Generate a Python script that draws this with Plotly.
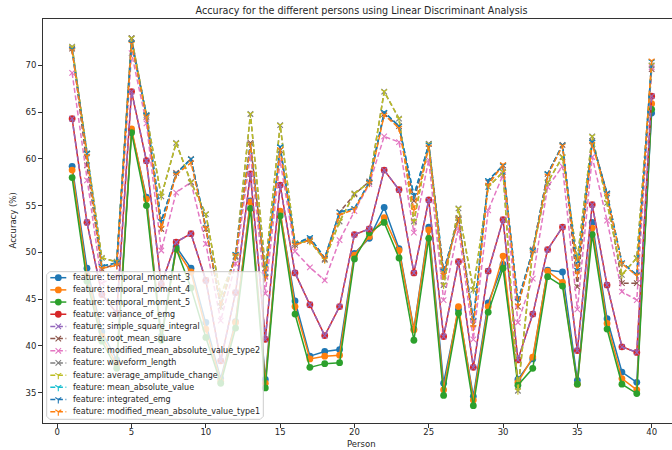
import plotly.graph_objects as go

# ---------------------------------------------------------------------------
# Data: LDA accuracy (%) per person for each EMG feature
# ---------------------------------------------------------------------------
persons = list(range(1, 41))

temporal_moment_3 = [59.2, 48.3, 41.5, 38.5, 63.0, 55.9, 41.0, 50.6, 48.3, 42.5,
                     36.5, 42.6, 55.5, 36.4, 54.2, 44.8, 38.9, 39.4, 39.6, 49.9,
                     51.5, 54.8, 50.4, 41.8, 52.7, 36.0, 43.9, 34.6, 44.6, 48.7,
                     36.4, 38.6, 48.1, 47.9, 36.3, 53.2, 42.9, 37.2, 36.1, 64.9]
temporal_moment_4 = [58.8, 47.6, 41.0, 38.0, 63.2, 55.7, 40.8, 50.3, 47.9, 41.8,
                     36.2, 42.5, 55.4, 36.0, 54.4, 44.2, 38.6, 38.9, 39.0, 49.7,
                     51.7, 53.7, 50.2, 41.7, 52.4, 35.3, 44.2, 34.2, 44.2, 49.6,
                     36.1, 38.8, 48.0, 46.8, 35.9, 52.6, 42.4, 36.5, 35.3, 65.9]
temporal_moment_5 = [58.0, 46.9, 40.5, 37.6, 62.8, 55.0, 40.6, 50.4, 46.2, 40.9,
                     36.0, 41.9, 54.7, 35.5, 53.9, 43.4, 37.7, 38.1, 38.2, 49.3,
                     52.1, 53.2, 49.4, 40.6, 51.5, 34.7, 43.5, 33.6, 43.6, 48.3,
                     35.8, 37.6, 47.4, 46.4, 35.9, 51.9, 41.8, 35.9, 34.9, 65.3]
variance_of_emg = [64.3, 53.2, 45.5, 43.5, 67.2, 59.8, 46.6, 51.1, 52.0, 47.0,
                   38.4, 45.7, 58.4, 40.7, 57.2, 47.8, 44.4, 41.1, 44.2, 51.9,
                   52.5, 58.8, 56.7, 47.8, 55.6, 41.0, 49.0, 37.7, 48.0, 53.5,
                   38.5, 43.4, 50.3, 52.7, 39.5, 55.1, 46.5, 39.9, 39.3, 66.7]
simple_square_integral = [64.3, 53.2, 45.5, 43.5, 67.2, 59.8, 46.6, 51.1, 52.0, 47.0,
                          38.4, 45.7, 58.4, 40.7, 57.2, 47.8, 44.4, 41.1, 44.2, 51.9,
                          52.5, 58.8, 56.7, 47.8, 55.6, 41.0, 49.0, 37.7, 48.0, 53.5,
                          38.5, 43.4, 50.3, 52.7, 39.5, 55.1, 46.5, 39.9, 39.3, 66.7]
root_mean_square = [71.8, 59.3, 48.2, 48.8, 72.9, 64.5, 52.5, 58.5, 60.0, 52.5,
                    44.2, 49.6, 61.7, 47.4, 60.9, 50.8, 51.4, 49.3, 54.3, 56.2,
                    57.6, 64.8, 63.5, 55.5, 61.6, 47.5, 53.7, 42.3, 57.5, 59.3,
                    44.2, 50.3, 58.4, 61.5, 46.3, 61.9, 56.3, 46.7, 46.7, 69.6]
modified_mean_absolute_value_type2 = [69.2, 57.7, 46.7, 47.5, 71.3, 63.8, 50.2, 56.4, 57.5, 50.9,
                                      42.7, 48.8, 60.4, 45.6, 59.8, 50.1, 48.4, 47.0, 51.3, 54.4,
                                      57.3, 62.4, 61.8, 52.1, 59.9, 44.9, 52.6, 40.7, 54.5, 58.3,
                                      42.5, 47.2, 57.0, 59.2, 43.9, 60.2, 53.4, 45.8, 44.9, 69.8]
waveform_length = [72.0, 60.6, 49.4, 49.0, 72.9, 64.7, 56.0, 61.7, 57.5, 54.1,
                   45.4, 49.5, 64.8, 48.3, 63.6, 51.0, 51.2, 49.2, 53.3, 56.3,
                   57.5, 67.2, 64.3, 53.3, 61.6, 46.5, 54.7, 46.0, 57.0, 58.6,
                   35.2, 50.2, 57.5, 60.2, 49.3, 62.4, 55.3, 47.6, 49.4, 70.0]
average_amplitude_change = [72.0, 60.6, 49.4, 49.0, 72.9, 64.7, 56.0, 61.7, 57.5, 54.1,
                            45.4, 49.5, 64.8, 48.3, 63.6, 51.0, 51.2, 49.2, 53.3, 56.3,
                            57.5, 67.2, 64.3, 53.3, 61.6, 46.5, 54.7, 46.0, 57.0, 58.6,
                            35.2, 50.2, 57.5, 60.2, 49.3, 62.4, 55.3, 47.6, 49.4, 70.0]
mean_absolute_value = [71.7, 60.6, 48.5, 48.9, 72.4, 64.7, 53.3, 58.4, 60.0, 52.7,
                       44.3, 49.8, 61.6, 47.4, 61.3, 50.9, 51.6, 49.4, 54.3, 54.7,
                       57.5, 65.0, 63.5, 56.1, 61.5, 48.0, 53.6, 42.7, 57.7, 59.3,
                       44.8, 50.2, 58.4, 61.5, 48.1, 61.8, 56.3, 48.9, 47.6, 70.4]
integrated_emg = [71.7, 60.6, 48.5, 48.9, 72.4, 64.7, 53.3, 58.4, 60.0, 52.7,
                  44.3, 49.8, 61.6, 47.4, 61.3, 50.9, 51.6, 49.4, 54.3, 54.7,
                  57.5, 65.0, 63.5, 56.1, 61.5, 48.0, 53.6, 42.7, 57.7, 59.3,
                  44.8, 50.2, 58.4, 61.5, 48.1, 61.8, 56.3, 48.9, 47.6, 70.4]
modified_mean_absolute_value_type1 = [71.6, 60.3, 48.3, 48.6, 72.3, 64.5, 52.6, 58.3, 59.6, 52.6,
                                      44.3, 49.7, 61.6, 47.3, 61.0, 50.8, 51.3, 49.3, 54.0, 54.6,
                                      57.4, 64.7, 63.3, 54.5, 61.3, 47.6, 53.6, 42.0, 57.2, 59.4,
                                      44.3, 50.0, 58.2, 61.4, 47.7, 61.6, 56.1, 48.8, 47.5, 70.5]

x_ticks = [0, 5, 10, 15, 20, 25, 30, 35, 40]
y_ticks = [35, 40, 45, 50, 55, 60, 65, 70]

# (label, values, colour, marker symbol, dash style)
series = [
    ("feature: temporal_moment_3", temporal_moment_3, "#1f77b4", "circle", "solid"),
    ("feature: temporal_moment_4", temporal_moment_4, "#ff7f0e", "circle", "solid"),
    ("feature: temporal_moment_5", temporal_moment_5, "#2ca02c", "circle", "solid"),
    ("feature: variance_of_emg", variance_of_emg, "#d62728", "circle", "solid"),
    ("feature: simple_square_integral", simple_square_integral, "#9467bd", "x-thin-open", "dash"),
    ("feature: root_mean_square", root_mean_square, "#8c564b", "x-thin-open", "dash"),
    ("feature: modified_mean_absolute_value_type2", modified_mean_absolute_value_type2, "#e377c2", "x-thin-open", "dash"),
    ("feature: waveform_length", waveform_length, "#7f7f7f", "x-thin-open", "dash"),
    ("feature: average_amplitude_change", average_amplitude_change, "#bcbd22", "y-down-open", "dash"),
    ("feature: mean_absolute_value", mean_absolute_value, "#17becf", "y-down-open", "dash"),
    ("feature: integrated_emg", integrated_emg, "#1f77b4", "y-down-open", "dash"),
    ("feature: modified_mean_absolute_value_type1", modified_mean_absolute_value_type1, "#ff7f0e", "y-down-open", "dash"),
]

FONT = "DejaVu Sans"
TXT = "#262626"
W, H = 672, 450
M_L, M_T, M_B = 43, 19, 27
DASH = "5px,2.6px"
LW = 1.5


def marker_style(color, symbol):
    if symbol == "circle":
        return dict(symbol="circle", size=6.8, color=color, line=dict(width=0))
    if symbol.startswith("x"):
        return dict(symbol=symbol, size=5.5, color=color, line=dict(width=1.1, color=color))
    return dict(symbol=symbol, size=5.0, color=color, line=dict(width=1.1, color=color))


fig = go.Figure()

for name, vals, color, symbol, dash in series:
    fig.add_trace(go.Scatter(
        x=persons, y=vals, mode="lines+markers", name=name,
        line=dict(color=color, width=LW, dash=DASH if dash == "dash" else "solid"),
        marker=marker_style(color, symbol),
        showlegend=False, cliponaxis=False,
    ))

# ---------------------------------------------------------------------------
# Legend (lower left), drawn on a pixel-space overlay so it sits above the lines
# ---------------------------------------------------------------------------
box_l, box_r, box_t, box_b = 46.7, 263.3, 271.7, 419.3
r = 3.0
bx = [box_l + r, box_r - r, box_r, box_r, box_r - r, box_l + r, box_l, box_l, box_l + r]
by = [box_t, box_t, box_t + r, box_b - r, box_b, box_b, box_b - r, box_t + r, box_t]
fig.add_trace(go.Scatter(
    x=bx, y=by, xaxis="x2", yaxis="y2", mode="lines", fill="toself",
    fillcolor="rgba(255,255,255,0.8)", line=dict(color="rgba(204,204,204,1)", width=1),
    showlegend=False, hoverinfo="skip",
))

row0, row_gap = 277.7, 12.18
seg_l, seg_r, text_x = 50.3, 66.3, 70.8
for i, (name, vals, color, symbol, dash) in enumerate(series):
    yy = row0 + i * row_gap
    fig.add_trace(go.Scatter(
        x=[seg_l, seg_r], y=[yy, yy], xaxis="x2", yaxis="y2", mode="lines",
        line=dict(color=color, width=LW, dash=DASH if dash == "dash" else "solid"),
        showlegend=False, hoverinfo="skip",
    ))
    fig.add_trace(go.Scatter(
        x=[(seg_l + seg_r) / 2], y=[yy], xaxis="x2", yaxis="y2", mode="markers",
        marker=marker_style(color, symbol), showlegend=False, hoverinfo="skip",
    ))
    fig.add_annotation(
        x=text_x, y=yy, xref="x2", yref="y2", text=name, showarrow=False,
        xanchor="left", yanchor="middle", font=dict(family=FONT, size=8, color=TXT),
    )

plot_w = W - M_L
plot_h = H - M_T - M_B


def paper_x(px):
    return (px - M_L) / plot_w


def paper_y(py):
    return (H - M_B - py) / plot_h


# Axis titles
fig.add_annotation(x=paper_x(361.5), y=paper_y(444), xref="paper", yref="paper",
                   text="Person", showarrow=False, xanchor="center", yanchor="middle",
                   font=dict(family=FONT, size=8.5, color=TXT))
fig.add_annotation(x=paper_x(12.5), y=paper_y(221), xref="paper", yref="paper",
                   text="Accuracy (%)", showarrow=False, textangle=-90,
                   xanchor="center", yanchor="middle",
                   font=dict(family=FONT, size=8.5, color=TXT))

fig.update_layout(
    width=W, height=H,
    margin=dict(l=M_L, r=0, t=M_T, b=M_B, pad=0),
    paper_bgcolor="white", plot_bgcolor="white",
    showlegend=False,
    title=dict(text="Accuracy for the different persons using Linear Discriminant Analysis",
               x=361.5 / W, xref="container", xanchor="center",
               y=1 - 10.5 / H, yref="container", yanchor="middle",
               font=dict(family=FONT, size=9.6, color=TXT)),
    xaxis=dict(range=[-0.96, 41.37], tickvals=x_ticks, ticks="outside", ticklen=4,
               tickwidth=1, tickcolor="#333", showline=True, linecolor="#333",
               linewidth=1, mirror=True, showgrid=False, zeroline=False,
               ticklabelstandoff=-3,
               tickfont=dict(family=FONT, size=8.5, color=TXT)),
    yaxis=dict(range=[31.75, 74.96], tickvals=y_ticks, ticks="outside", ticklen=4,
               tickwidth=1, tickcolor="#333", showline=True, linecolor="#333",
               linewidth=1, mirror=False, showgrid=False, zeroline=False,
               tickfont=dict(family=FONT, size=8.5, color=TXT)),
    xaxis2=dict(overlaying="x", anchor="y2", range=[M_L, W], visible=False, fixedrange=True),
    yaxis2=dict(overlaying="y", anchor="x2", range=[H - M_B, M_T], visible=False, fixedrange=True),
)

fig.write_html("out.html")
